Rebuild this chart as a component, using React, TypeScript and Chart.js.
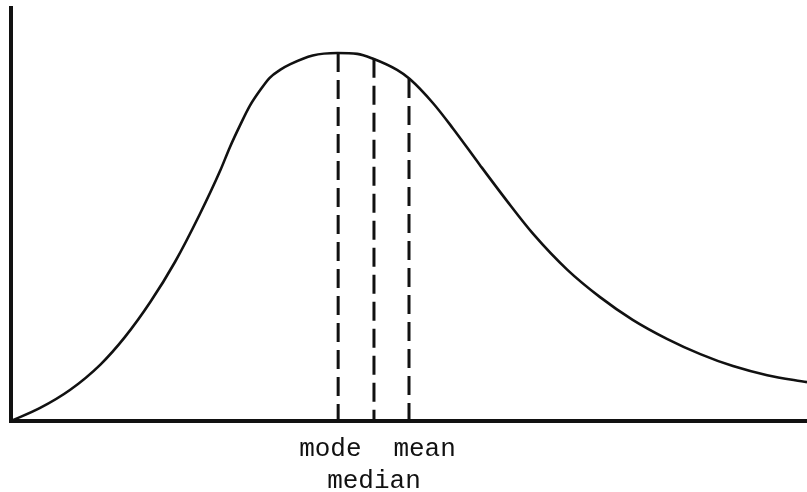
import React, { useEffect, useRef } from "react";
import { Chart, registerables } from "chart.js";

Chart.register(...registerables);

// Skewed distribution curve (x: 0–100, y: 0–100)
const curveX = [0, 3.6, 7.4, 11.2, 14.3, 17.5, 20.6, 23.7, 26.3, 27.5, 28.8, 30.0, 31.3, 32.5, 33.8, 35.1, 37.9, 41.0, 43.5, 45.5, 48.5, 50.1, 53.0, 55.5, 58.9, 62.3, 65.6, 69.9, 74.0, 78.1, 82.4, 86.6, 90.7, 95.0, 100];
const curveY = [0, 3.1, 7.5, 13.6, 20.3, 28.8, 38.5, 50.0, 60.7, 66.3, 71.7, 76.3, 80.1, 83.1, 85.0, 86.4, 88.5, 89.1, 88.9, 87.7, 85.0, 82.8, 77.0, 70.9, 62.0, 53.3, 45.3, 36.6, 30.0, 24.5, 19.9, 16.2, 13.3, 11.1, 9.4];

// Vertical dashed markers: mode, median, mean
const markerX = [41.1, 45.6, 50.0];
const markerTop = [89.1, 87.7, 82.8];
const markerLabels: (string | string[])[] = ["mode ", ["", "median"], "  mean"];

const INK = "#111111";

export default function App() {
  const canvasRef = useRef<HTMLCanvasElement | null>(null);

  useEffect(() => {
    const canvas = canvasRef.current;
    if (!canvas) return;

    const curveData = curveX.map((x, i) => ({ x, y: curveY[i] }));
    const markerSets = markerX.map((x, i) => ({
      data: [
        { x, y: markerTop[i] },
        { x, y: 0 },
      ],
      borderColor: INK,
      borderWidth: 3,
      borderDash: [19, 8],
      pointRadius: 0,
      fill: false,
      tension: 0,
    }));

    const chart = new Chart(canvas, {
      type: "line",
      data: {
        datasets: [
          {
            data: curveData,
            borderColor: INK,
            borderWidth: 2.6,
            pointRadius: 0,
            fill: false,
            cubicInterpolationMode: "monotone",
          },
          ...markerSets,
        ] as any,
      },
      options: {
        animation: false,
        responsive: false,
        layout: { padding: { left: 11, top: 8, right: 0, bottom: 0 } },
        plugins: { legend: { display: false }, tooltip: { enabled: false } },
        scales: {
          x: {
            type: "linear",
            min: 0,
            max: 100,
            grid: { display: false, drawTicks: false },
            border: { display: true, color: INK, width: 4 },
            afterBuildTicks: (s: any) => {
              s.ticks = markerX.map((v) => ({ value: v }));
            },
            ticks: {
              autoSkip: false,
              maxRotation: 0,
              minRotation: 0,
              padding: 13,
              color: INK,
              font: { family: '"Liberation Mono", "DejaVu Sans Mono", monospace', size: 26 },
              callback: (_v: any, i: number) => markerLabels[i] as any,
            },
            afterFit: (s: any) => {
              s.height = 71;
              s.paddingLeft = 0;
              s.paddingRight = 0;
            },
          },
          y: {
            type: "linear",
            min: 0,
            max: 100,
            grid: { display: false, drawTicks: false },
            border: { display: true, color: INK, width: 4 },
            ticks: { display: false },
            afterFit: (s: any) => {
              s.width = 0;
            },
          },
        },
      } as any,
    });

    return () => chart.destroy();
  }, []);

  return (
    <div style={{ position: "absolute", left: 0, top: 0, width: 807, height: 492, background: "#fff" }}>
      <canvas ref={canvasRef} width={807} height={492} style={{ display: "block" }} />
    </div>
  );
}
